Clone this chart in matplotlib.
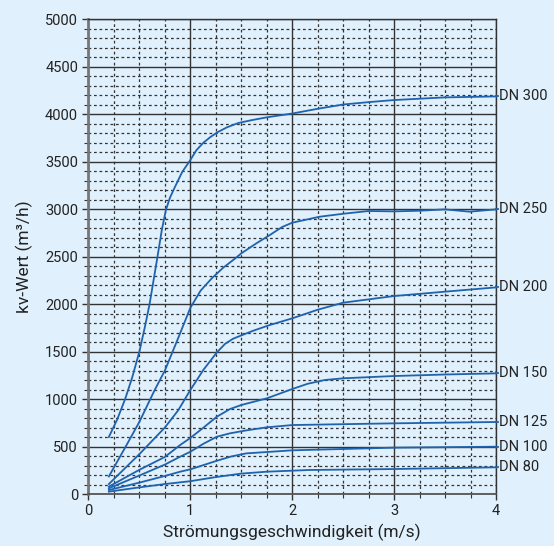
import matplotlib
matplotlib.use("Agg")
import matplotlib.pyplot as plt
from matplotlib.ticker import MultipleLocator

plt.rcParams['font.family'] = ['Roboto', 'DejaVu Sans']

# ---- data ----
labels = ["DN 300", "DN 250", "DN 200", "DN 150", "DN 125", "DN 100", "DN 80"]

dn300_x = [0.2, 0.28, 0.36, 0.43, 0.5, 0.55, 0.6, 0.67, 0.72, 0.76, 0.8, 0.85, 0.92, 1.0, 1.06, 1.13, 1.2, 1.27, 1.36, 1.47, 1.6, 1.75, 2.0, 2.25, 2.5, 2.75, 3.0, 3.5, 4.0]
dn300_y = [600, 780, 1000, 1230, 1500, 1740, 2000, 2450, 2780, 2990, 3120, 3235, 3390, 3516, 3620, 3700, 3760, 3810, 3860, 3905, 3935, 3965, 4005, 4055, 4100, 4125, 4147, 4175, 4185]

dn250_x = [0.2, 0.35, 0.5, 0.65, 0.75, 0.88, 1.0, 1.1, 1.21, 1.32, 1.42, 1.5, 1.65, 1.78, 1.9, 2.0, 2.27, 2.5, 2.75, 3.0, 3.25, 3.5, 3.74, 4.0]
dn250_y = [185, 470, 760, 1095, 1300, 1640, 1960, 2140, 2270, 2380, 2463, 2533, 2640, 2726, 2810, 2856, 2919, 2950, 2979, 2975, 2982, 2996, 2972, 2996]

dn200_x = [0.2, 0.5, 0.75, 0.88, 1.0, 1.13, 1.26, 1.34, 1.42, 1.49, 1.62, 1.78, 2.0, 2.25, 2.5, 3.0, 3.5, 4.0]
dn200_y = [105, 420, 700, 880, 1095, 1310, 1490, 1580, 1635, 1665, 1720, 1779, 1849, 1940, 2014, 2084, 2130, 2175]

dn150_x = [0.2, 0.5, 0.75, 0.9, 1.0, 1.13, 1.26, 1.39, 1.5, 1.75, 2.0, 2.15, 2.32, 2.5, 3.0, 3.5, 4.0]
dn150_y = [78, 255, 390, 516, 590, 700, 814, 895, 937, 1007, 1105, 1160, 1200, 1218, 1242, 1258, 1270]

dn125_x = [0.2, 0.5, 0.75, 0.9, 1.0, 1.13, 1.26, 1.39, 1.55, 1.75, 2.0, 3.0, 4.0]
dn125_y = [60, 195, 310, 393, 445, 530, 603, 639, 670, 702, 726, 744, 758]

dn100_x = [0.2, 0.5, 0.75, 0.9, 1.0, 1.13, 1.26, 1.4, 1.55, 1.75, 2.0, 3.0, 4.0]
dn100_y = [42, 120, 190, 235, 260, 305, 350, 395, 428, 442, 460, 488, 498]

dn80_x = [0.2, 0.5, 0.75, 1.0, 1.26, 1.5, 1.75, 2.17, 3.0, 4.0]
dn80_y = [25, 70, 105, 135, 180, 215, 235, 253, 263, 281]

series_x = [dn300_x, dn250_x, dn200_x, dn150_x, dn125_x, dn100_x, dn80_x]
series_y = [dn300_y, dn250_y, dn200_y, dn150_y, dn125_y, dn100_y, dn80_y]

x_ticks = [0, 1, 2, 3, 4]
y_ticks = list(range(0, 5001, 500))

# ---- figure ----
bg = '#e0f0fc'
line_col = '#1f62ad'
text_col = '#222222'

fig = plt.figure(figsize=(5.54, 5.46), dpi=100, facecolor=bg)
ax = fig.add_axes([0.1597, 0.0952, 0.8953 - 0.1597, 0.9652 - 0.0952])
ax.set_facecolor(bg)

ax.set_xlim(0, 4)
ax.set_ylim(0, 5000)
ax.set_xticks(x_ticks)
ax.set_yticks(y_ticks)
ax.xaxis.set_minor_locator(MultipleLocator(0.25))
ax.yaxis.set_minor_locator(MultipleLocator(100))

ax.grid(which='major', color='#333333', linewidth=1.0, linestyle='-')
ax.grid(which='minor', color='#333333', linewidth=0.9, linestyle=(0, (2.2, 2.2)))
ax.set_axisbelow(True)

for xs, ys, lab in zip(series_x, series_y, labels):
    ax.plot(xs, ys, color=line_col, linewidth=1.3, zorder=3, clip_on=False,
            solid_joinstyle='round')
    ax.plot([xs[-1], xs[-1] + 0.02], [ys[-1], ys[-1]], color=line_col,
            linewidth=1.3, zorder=3, clip_on=False)
    ax.text(xs[-1] + 0.03, ys[-1], lab, va='center', ha='left',
            fontsize=10.5, color=text_col, clip_on=False)

for side in ['top', 'right']:
    ax.spines[side].set_color('#333333')
    ax.spines[side].set_linewidth(1.0)
ax.spines['left'].set_color('#777777')
ax.spines['left'].set_linewidth(2.0)
ax.spines['bottom'].set_color('#555555')
ax.spines['bottom'].set_linewidth(1.3)

ax.tick_params(which='both', direction='out', colors='#333333', labelcolor=text_col)
ax.tick_params(which='major', length=4, width=1.0, labelsize=10.5)
ax.tick_params(which='minor', length=3, width=0.8)

ax.set_xlabel('Strömungsgeschwindigkeit (m/s)', fontsize=12.5, color=text_col, labelpad=4)
ax.set_ylabel('kv-Wert (m³/h)', fontsize=12.5, color=text_col, labelpad=9)

fig.savefig('out.png', dpi=100, facecolor=bg)
